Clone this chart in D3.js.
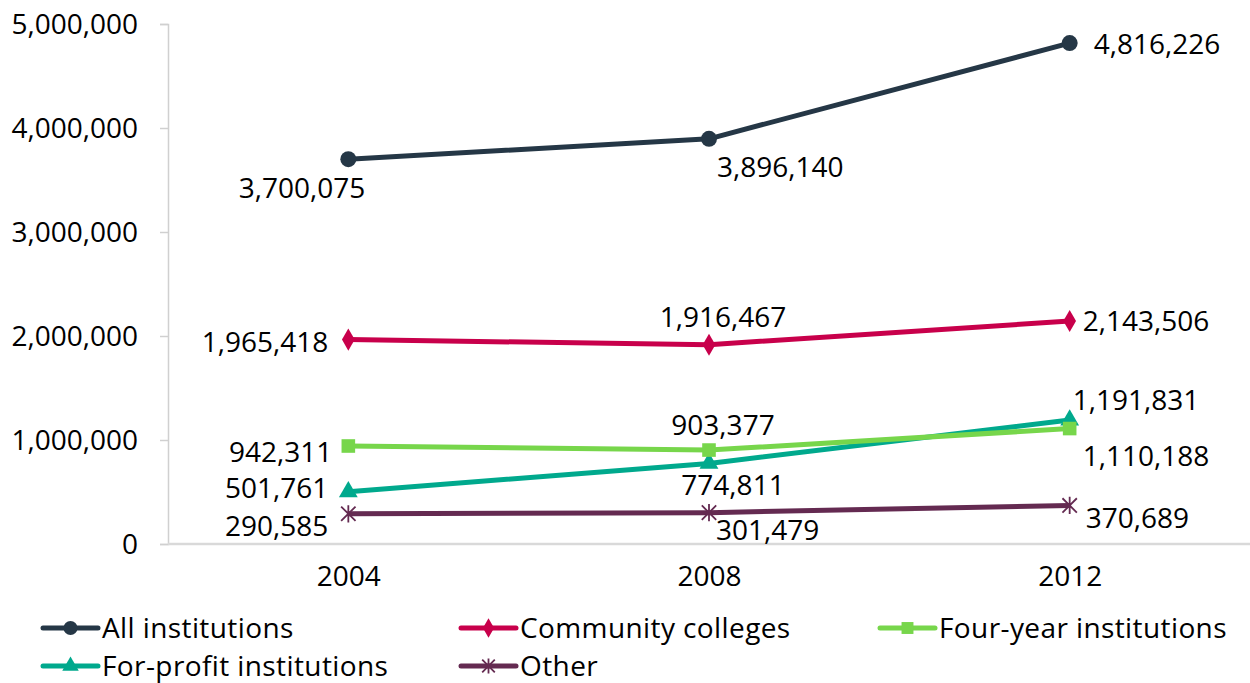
<!DOCTYPE html>
<html>
<head>
<meta charset="utf-8">
<script src="https://cdn.jsdelivr.net/npm/d3@7"></script>
<style>
  body { margin: 0; background: #fff; }
  text { font-family: "Open Sans", sans-serif; fill: #000; }
</style>
</head>
<body>
<div id="chart"></div>
<script>
// enrollment by sector
const years = ['2004', '2008', '2012'];
const seriesNames = ['All institutions', 'Community colleges', 'Four-year institutions', 'For-profit institutions', 'Other'];
const allInst = [3700075, 3896140, 4816226];
const community = [1965418, 1916467, 2143506];
const fourYear = [942311, 903377, 1110188];
const forProfit = [501761, 774811, 1191831];
const other = [290585, 301479, 370689];
const yTicks = [0, 1000000, 2000000, 3000000, 4000000, 5000000];

const W = 1250, H = 683;
const margin = { top: 24, right: 0, bottom: 139, left: 168 };
const fontSize = '28px';

const styles = [
  { color: '#253746', marker: 'circle' },
  { color: '#c8004b', marker: 'diamond' },
  { color: '#77d64b', marker: 'square' },
  { color: '#00a98d', marker: 'triangle' },
  { color: '#642a51', marker: 'star' }
];

// where excel put each data label (anchor + nudge from the point)
const labelPlacement = [
  [{ a: 'end', dx: 17, dy: 29 }, { a: 'start', dx: 8, dy: 28 }, { a: 'start', dx: 24, dy: 1 }],
  [{ a: 'end', dx: -20, dy: 3 }, { a: 'middle', dx: 14, dy: -27 }, { a: 'start', dx: 13, dy: 0 }],
  [{ a: 'end', dx: -16, dy: 6 }, { a: 'middle', dx: 14, dy: -25 }, { a: 'start', dx: 13, dy: 28 }],
  [{ a: 'end', dx: -20, dy: -4 }, { a: 'middle', dx: 24, dy: 22 }, { a: 'start', dx: 3, dy: -20 }],
  [{ a: 'end', dx: -20, dy: 12 }, { a: 'start', dx: 7, dy: 18 }, { a: 'start', dx: 16, dy: 13 }]
];

const allSeries = [allInst, community, fourYear, forProfit, other];

const svg = d3.select('#chart').append('svg')
  .attr('width', W)
  .attr('height', H);

const x = d3.scalePoint()
  .domain(years)
  .range([margin.left, W - margin.right])
  .padding(0.5);

const y = d3.scaleLinear()
  .domain([0, 5000000])
  .range([H - margin.bottom, margin.top]);

const fmt = d3.format(',');

// y axis
const yAxis = svg.append('g')
  .attr('transform', 'translate(' + margin.left + ',0)')
  .call(d3.axisLeft(y).tickValues(yTicks).tickFormat(fmt).tickSize(8).tickPadding(22));
yAxis.selectAll('line, path').attr('stroke', '#d0d0d0').attr('stroke-width', 1.5);
yAxis.selectAll('text').style('font-size', fontSize).attr('dy', '0.35em');

// x axis
const xAxis = svg.append('g')
  .attr('transform', 'translate(0,' + y(0) + ')')
  .call(d3.axisBottom(x).tickSize(0).tickPadding(22));
xAxis.select('path').attr('d', 'M' + margin.left + ',0H' + W).attr('stroke', '#d9d9d9').attr('stroke-width', 2.5);
xAxis.selectAll('text').style('font-size', fontSize);

function drawMarker(g, type, color, size) {
  if (type === 'circle') {
    g.append('circle').attr('r', size).attr('fill', color);
  } else if (type === 'diamond') {
    g.append('path').attr('d', d3.symbol(d3.symbolDiamond, size * size * 2.2)()).attr('fill', color);
  } else if (type === 'square') {
    g.append('rect').attr('x', -size * 0.85).attr('y', -size * 0.85)
      .attr('width', size * 1.7).attr('height', size * 1.7).attr('fill', color);
  } else if (type === 'triangle') {
    g.append('path').attr('d', d3.symbol(d3.symbolTriangle, size * size * 2.4)()).attr('fill', color);
  } else if (type === 'star') {
    const s = size * 0.9;
    g.append('path')
      .attr('d', 'M' + (-s) + ',' + (-s) + 'L' + s + ',' + s + 'M' + (-s) + ',' + s + 'L' + s + ',' + (-s) +
        'M0,' + (-s * 1.2) + 'L0,' + (s * 1.2))
      .attr('stroke', color).attr('stroke-width', 1.8).attr('fill', 'none');
  }
}

const line = d3.line()
  .x(function (d, i) { return x(years[i]); })
  .y(function (d) { return y(d); });

// draw back to front so "All institutions" sits on top like excel
allSeries.slice().reverse().forEach(function (vals, ri) {
  const si = allSeries.length - 1 - ri;
  const st = styles[si];
  const g = svg.append('g');

  g.append('path')
    .datum(vals)
    .attr('d', line)
    .attr('fill', 'none')
    .attr('stroke', st.color)
    .attr('stroke-width', 5)
    .attr('stroke-linejoin', 'round');

  vals.forEach(function (v, i) {
    const m = g.append('g').attr('transform', 'translate(' + x(years[i]) + ',' + y(v) + ')');
    drawMarker(m, st.marker, st.color, 8);
  });
});

// data labels
allSeries.forEach(function (vals, si) {
  vals.forEach(function (v, i) {
    const p = labelPlacement[si][i];
    svg.append('text')
      .attr('x', x(years[i]) + p.dx)
      .attr('y', y(v) + p.dy)
      .attr('dy', '0.35em')
      .attr('text-anchor', p.a)
      .style('font-size', fontSize)
      .text(fmt(v));
  });
});

// legend
const legendPos = [[43, 628], [461, 628], [880, 628], [43, 666], [461, 666]];
seriesNames.forEach(function (name, si) {
  const st = styles[si];
  const g = svg.append('g').attr('transform', 'translate(' + legendPos[si][0] + ',' + legendPos[si][1] + ')');
  g.append('line')
    .attr('x1', 0).attr('x2', 55)
    .attr('stroke', st.color).attr('stroke-width', 5).attr('stroke-linecap', 'round');
  const m = g.append('g').attr('transform', 'translate(27.5,0)');
  drawMarker(m, st.marker, st.color, 7);
  g.append('text')
    .attr('x', 59)
    .attr('dy', '0.35em')
    .style('font-size', fontSize)
    .style('letter-spacing', '0.4px')
    .text(name);
});
</script>
</body>
</html>
